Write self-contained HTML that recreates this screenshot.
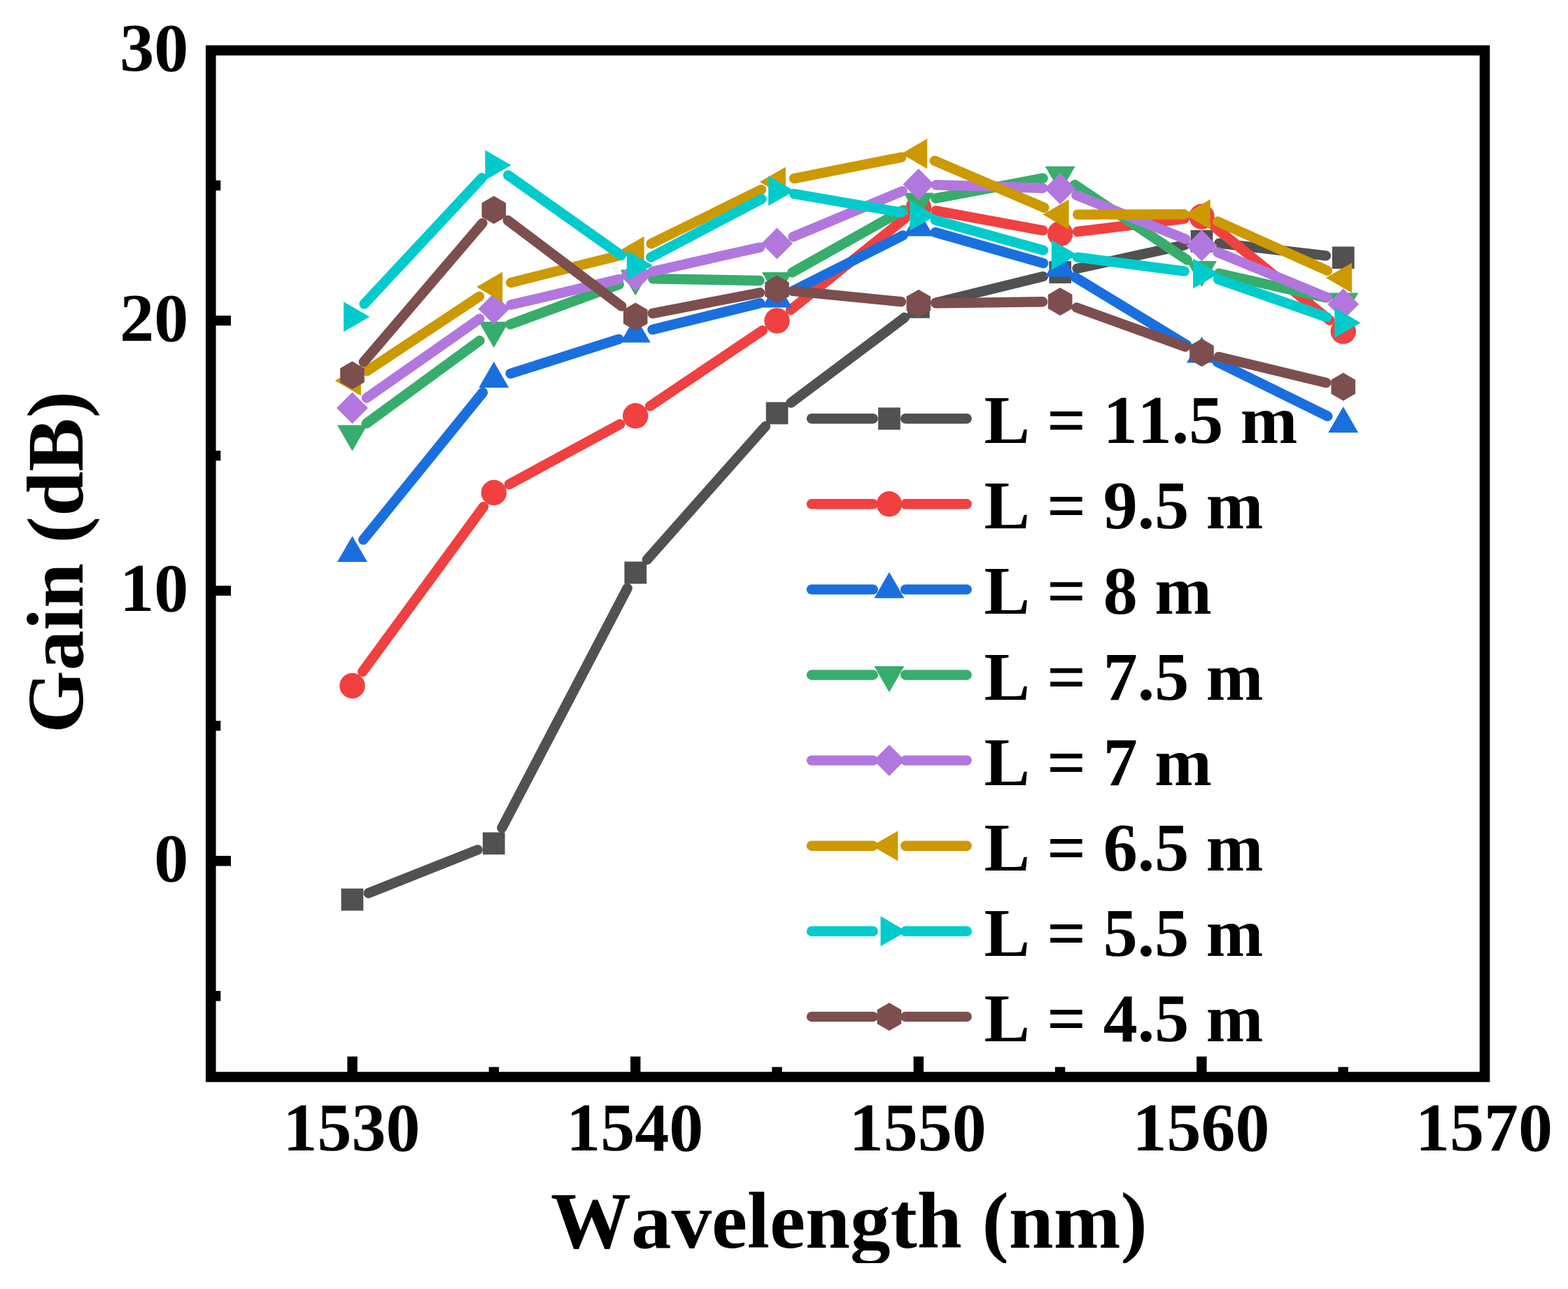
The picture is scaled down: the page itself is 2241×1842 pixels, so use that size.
<!DOCTYPE html>
<html><head><meta charset="utf-8"><title>Gain vs Wavelength</title>
<style>html,body{margin:0;padding:0;background:#fff;}svg{display:block;}text{font-kerning:none;}</style>
</head><body>
<svg width="2241" height="1842" viewBox="0 0 2241 1842">
<rect width="2241" height="1842" fill="#fff"/>
<rect x="301.3" y="72" width="1820.7" height="1467" fill="none" stroke="#000" stroke-width="14.6"/>
<path d="M301.3,458.1H330 M301.3,844.1H330 M301.3,1230.2H330 M301.3,265H315.3 M301.3,651.1H315.3 M301.3,1037.1H315.3 M301.3,1423.2H315.3 M503.6,1539V1509.8 M908.2,1539V1509.8 M1312.8,1539V1509.8 M1717.4,1539V1509.8 M705.9,1539V1524.8 M1110.5,1539V1524.8 M1515.1,1539V1524.8 M1919.7,1539V1524.8" stroke="#000" stroke-width="14.4" fill="none"/>
<g font-family="Liberation Serif, serif" font-weight="bold" font-size="98" fill="#000">
<text x="502.6" y="1644" text-anchor="middle">1530</text>
<text x="907.2" y="1644" text-anchor="middle">1540</text>
<text x="1311.8" y="1644" text-anchor="middle">1550</text>
<text x="1716.4" y="1644" text-anchor="middle">1560</text>
<text x="2121" y="1644" text-anchor="middle">1570</text>
<text x="269.2" y="100.7" text-anchor="end">30</text>
<text x="269.2" y="486.8" text-anchor="end">20</text>
<text x="269.2" y="872.8" text-anchor="end">10</text>
<text x="269.2" y="1258.9" text-anchor="end">0</text>
</g>
<g font-family="Liberation Serif, serif" font-weight="bold" font-size="115" fill="#000">
<text x="1213.5" y="1783.3" text-anchor="middle">Wavelength (nm)</text>
<text transform="translate(118,803.3) rotate(-90)" text-anchor="middle">Gain (dB)</text>
</g>
<rect x="0" y="1805" width="2241" height="37" fill="#fff"/>
<g><path d="M526.7,1276.3L682.6,1214.4M717.4,1183L896.6,840.6M924.8,799.7L1093.9,609.2M1130.5,575.5L1292.8,453.8M1337.1,432.8L1490.9,395.1M1539.6,383.7L1693.1,350.1M1742.3,347.6L1895,365.4" stroke="#515151" stroke-width="14.4" stroke-linecap="round" fill="none"/>
<rect x="487.6" y="1269.7" width="31.7" height="31.7" fill="#515151"/>
<rect x="689.9" y="1189.4" width="31.7" height="31.7" fill="#515151"/>
<rect x="892.4" y="802.5" width="31.7" height="31.7" fill="#515151"/>
<rect x="1094.7" y="574.6" width="31.7" height="31.7" fill="#515151"/>
<rect x="1297" y="422.9" width="31.7" height="31.7" fill="#515151"/>
<rect x="1499.4" y="373.2" width="31.7" height="31.7" fill="#515151"/>
<rect x="1701.7" y="328.8" width="31.7" height="31.7" fill="#515151"/>
<rect x="1904" y="352.4" width="31.7" height="31.7" fill="#515151"/>
</g>
<g><path d="M518.3,959.8L691,724.2M727.8,692.1L886.2,606.2M929,580.4L1089.7,472.3M1130,442.8L1293.3,312.1M1337.4,301.1L1490.6,329.4M1540,331L1692.7,312.5M1736.9,325.2L1900.4,457.7" stroke="#F14040" stroke-width="14.4" stroke-linecap="round" fill="none"/>
<circle cx="503.5" cy="980" r="18.2" fill="#F14040"/>
<circle cx="705.8" cy="704" r="18.2" fill="#F14040"/>
<circle cx="908.2" cy="594.3" r="18.2" fill="#F14040"/>
<circle cx="1110.5" cy="458.4" r="18.2" fill="#F14040"/>
<circle cx="1312.8" cy="296.5" r="18.2" fill="#F14040"/>
<circle cx="1515.2" cy="334" r="18.2" fill="#F14040"/>
<circle cx="1717.5" cy="309.5" r="18.2" fill="#F14040"/>
<circle cx="1919.8" cy="473.4" r="18.2" fill="#F14040"/>
</g>
<g><path d="M519.3,771.3L690,560.9M729.6,533.9L884.4,484.6M932.5,471L1086.2,433.2M1132.8,415.9L1290.5,336.4M1336.8,332L1491.2,376.2M1536.6,396.1L1696.1,493.1M1739.9,517.2L1897.4,594.8" stroke="#1A6FDF" stroke-width="14.4" stroke-linecap="round" fill="none"/>
<polygon points="503.5,765.9 525,803.1 482,803.1" fill="#1A6FDF"/>
<polygon points="705.8,516.7 727.3,553.9 684.3,553.9" fill="#1A6FDF"/>
<polygon points="908.2,452.2 929.7,489.4 886.7,489.4" fill="#1A6FDF"/>
<polygon points="1110.5,402.4 1132,439.6 1089,439.6" fill="#1A6FDF"/>
<polygon points="1312.8,300.3 1334.3,337.5 1291.3,337.5" fill="#1A6FDF"/>
<polygon points="1515.2,358.3 1536.7,395.5 1493.7,395.5" fill="#1A6FDF"/>
<polygon points="1717.5,481.3 1739,518.5 1696,518.5" fill="#1A6FDF"/>
<polygon points="1919.8,581.1 1941.3,618.3 1898.3,618.3" fill="#1A6FDF"/>
</g>
<g><path d="M523.7,605.1L685.6,486.8M729.3,463.5L884.7,406.4M933.2,398.2L1085.5,401M1132.3,389.2L1291,300.2M1337.4,283.4L1490.6,254.7M1536,264L1696.7,371.4M1741.9,390.8L1895.4,425.4" stroke="#37AD6B" stroke-width="14.4" stroke-linecap="round" fill="none"/>
<polygon points="503.5,644.6 525,607.4 482,607.4" fill="#37AD6B"/>
<polygon points="705.8,496.9 727.3,459.7 684.3,459.7" fill="#37AD6B"/>
<polygon points="908.2,422.6 929.7,385.4 886.7,385.4" fill="#37AD6B"/>
<polygon points="1110.5,426.2 1132,389 1089,389" fill="#37AD6B"/>
<polygon points="1312.8,312.8 1334.3,275.6 1291.3,275.6" fill="#37AD6B"/>
<polygon points="1515.2,274.9 1536.7,237.7 1493.7,237.7" fill="#37AD6B"/>
<polygon points="1717.5,410.1 1739,372.9 1696,372.9" fill="#37AD6B"/>
<polygon points="1919.8,455.7 1941.3,418.5 1898.3,418.5" fill="#37AD6B"/>
</g>
<g><path d="M524,568.7L685.3,455.7M730.1,435.6L883.9,399.3M932.6,388L1086.1,353.4M1133.6,338.3L1289.7,273.1M1337.8,264.3L1490.2,268.8M1538.4,278.9L1694.3,341.6M1740.6,360.5L1896.7,425.1" stroke="#B177DE" stroke-width="14.4" stroke-linecap="round" fill="none"/>
<polygon points="503.5,560.6 525.9,583 503.5,605.4 481.1,583" fill="#B177DE"/>
<polygon points="705.8,419 728.2,441.4 705.8,463.8 683.4,441.4" fill="#B177DE"/>
<polygon points="908.2,371.1 930.6,393.5 908.2,415.9 885.8,393.5" fill="#B177DE"/>
<polygon points="1110.5,325.5 1132.9,347.9 1110.5,370.3 1088.1,347.9" fill="#B177DE"/>
<polygon points="1312.8,241.1 1335.2,263.5 1312.8,285.9 1290.4,263.5" fill="#B177DE"/>
<polygon points="1515.2,247.2 1537.6,269.6 1515.2,292 1492.8,269.6" fill="#B177DE"/>
<polygon points="1717.5,328.5 1739.9,350.9 1717.5,373.3 1695.1,350.9" fill="#B177DE"/>
<polygon points="1919.8,412.3 1942.2,434.7 1919.8,457.1 1897.4,434.7" fill="#B177DE"/>
</g>
<g><path d="M524.3,530.2L685,423.8M730.1,403.9L883.9,365.4M930.6,348.3L1088.1,271M1135,255.1L1288.3,224.7M1335.8,229.7L1492.2,296.7M1540.2,306.6L1692.5,306.3M1740.3,316.5L1897,386.8" stroke="#CC9900" stroke-width="14.4" stroke-linecap="round" fill="none"/>
<polygon points="478.7,544 515.9,522.5 515.9,565.5" fill="#CC9900"/>
<polygon points="681,410 718.2,388.5 718.2,431.5" fill="#CC9900"/>
<polygon points="883.4,359.3 920.6,337.8 920.6,380.8" fill="#CC9900"/>
<polygon points="1085.7,260 1122.9,238.5 1122.9,281.5" fill="#CC9900"/>
<polygon points="1288,219.8 1325.2,198.3 1325.2,241.3" fill="#CC9900"/>
<polygon points="1490.4,306.6 1527.6,285.1 1527.6,328.1" fill="#CC9900"/>
<polygon points="1692.7,306.3 1729.9,284.8 1729.9,327.8" fill="#CC9900"/>
<polygon points="1895,397 1932.2,375.5 1932.2,418.5" fill="#CC9900"/>
</g>
<g><path d="M520.6,434.4L688.7,254.3M726.2,250.4L887.8,364.8M930.3,367.6L1088.4,284.3M1135.1,277L1288.2,303.6M1336.9,314.6L1491.1,357.6M1540,367.6L1692.7,387.6M1741.1,399.1L1896.2,453.1" stroke="#00CBCC" stroke-width="14.4" stroke-linecap="round" fill="none"/>
<polygon points="528.3,452.7 491.1,431.2 491.1,474.2" fill="#00CBCC"/>
<polygon points="730.6,236 693.4,214.5 693.4,257.5" fill="#00CBCC"/>
<polygon points="933,379.2 895.8,357.7 895.8,400.7" fill="#00CBCC"/>
<polygon points="1135.3,272.7 1098.1,251.2 1098.1,294.2" fill="#00CBCC"/>
<polygon points="1337.6,307.9 1300.4,286.4 1300.4,329.4" fill="#00CBCC"/>
<polygon points="1540,364.3 1502.8,342.8 1502.8,385.8" fill="#00CBCC"/>
<polygon points="1742.3,390.9 1705.1,369.4 1705.1,412.4" fill="#00CBCC"/>
<polygon points="1944.6,461.3 1907.4,439.8 1907.4,482.8" fill="#00CBCC"/>
</g>
<g><path d="M519.8,517.3L689.5,318.9M725.8,315L888.2,437.5M932.7,447.9L1086,418.2M1135.4,416L1287.9,431.2M1337.8,433.4L1490.2,431.3M1538.7,439.5L1694,495.6M1741.8,510L1895.5,546.9" stroke="#7D4E4E" stroke-width="14.4" stroke-linecap="round" fill="none"/>
<polygon points="503.5,516.3 520.8,526.3 520.8,546.3 503.5,556.3 486.2,546.3 486.2,526.3" fill="#7D4E4E"/>
<polygon points="705.8,279.9 723.1,289.9 723.1,309.9 705.8,319.9 688.5,309.9 688.5,289.9" fill="#7D4E4E"/>
<polygon points="908.2,432.6 925.5,442.6 925.5,462.6 908.2,472.6 890.9,462.6 890.9,442.6" fill="#7D4E4E"/>
<polygon points="1110.5,393.5 1127.8,403.5 1127.8,423.5 1110.5,433.5 1093.2,423.5 1093.2,403.5" fill="#7D4E4E"/>
<polygon points="1312.8,413.7 1330.1,423.7 1330.1,443.7 1312.8,453.7 1295.5,443.7 1295.5,423.7" fill="#7D4E4E"/>
<polygon points="1515.2,411 1532.5,421 1532.5,441 1515.2,451 1497.9,441 1497.9,421" fill="#7D4E4E"/>
<polygon points="1717.5,484.1 1734.8,494.1 1734.8,514.1 1717.5,524.1 1700.2,514.1 1700.2,494.1" fill="#7D4E4E"/>
<polygon points="1919.8,532.8 1937.1,542.8 1937.1,562.8 1919.8,572.8 1902.5,562.8 1902.5,542.8" fill="#7D4E4E"/>
</g>
<g font-family="Liberation Serif, serif" font-weight="bold" font-size="98" fill="#000">
<path d="M1160,598.2H1247.7M1294.1,598.2H1381.7" stroke="#515151" stroke-width="14.4" stroke-linecap="round" fill="none"/>
<rect x="1255.1" y="582.4" width="31.7" height="31.7" fill="#515151"/>
<text x="1406.5" y="633.2">L = 11.5 m</text>
<path d="M1160,720.3H1247.7M1294.1,720.3H1381.7" stroke="#F14040" stroke-width="14.4" stroke-linecap="round" fill="none"/>
<circle cx="1270.9" cy="720.3" r="18.2" fill="#F14040"/>
<text x="1406.5" y="755.3">L = 9.5 m</text>
<path d="M1160,842.4H1247.7M1294.1,842.4H1381.7" stroke="#1A6FDF" stroke-width="14.4" stroke-linecap="round" fill="none"/>
<polygon points="1270.9,817.6 1292.4,854.8 1249.4,854.8" fill="#1A6FDF"/>
<text x="1406.5" y="877.4">L = 8 m</text>
<path d="M1160,964.5H1247.7M1294.1,964.5H1381.7" stroke="#37AD6B" stroke-width="14.4" stroke-linecap="round" fill="none"/>
<polygon points="1270.9,989.3 1292.4,952.1 1249.4,952.1" fill="#37AD6B"/>
<text x="1406.5" y="999.5">L = 7.5 m</text>
<path d="M1160,1086.6H1247.7M1294.1,1086.6H1381.7" stroke="#B177DE" stroke-width="14.4" stroke-linecap="round" fill="none"/>
<polygon points="1270.9,1064.2 1293.3,1086.6 1270.9,1109 1248.5,1086.6" fill="#B177DE"/>
<text x="1406.5" y="1121.6">L = 7 m</text>
<path d="M1160,1208.7H1247.7M1294.1,1208.7H1381.7" stroke="#CC9900" stroke-width="14.4" stroke-linecap="round" fill="none"/>
<polygon points="1246.1,1208.7 1283.3,1187.2 1283.3,1230.2" fill="#CC9900"/>
<text x="1406.5" y="1243.7">L = 6.5 m</text>
<path d="M1160,1330.8H1247.7M1294.1,1330.8H1381.7" stroke="#00CBCC" stroke-width="14.4" stroke-linecap="round" fill="none"/>
<polygon points="1295.7,1330.8 1258.5,1309.3 1258.5,1352.3" fill="#00CBCC"/>
<text x="1406.5" y="1365.8">L = 5.5 m</text>
<path d="M1160,1452.9H1247.7M1294.1,1452.9H1381.7" stroke="#7D4E4E" stroke-width="14.4" stroke-linecap="round" fill="none"/>
<polygon points="1270.9,1432.9 1288.2,1442.9 1288.2,1462.9 1270.9,1472.9 1253.6,1462.9 1253.6,1442.9" fill="#7D4E4E"/>
<text x="1406.5" y="1487.9">L = 4.5 m</text>
</g>
</svg>
</body></html>
